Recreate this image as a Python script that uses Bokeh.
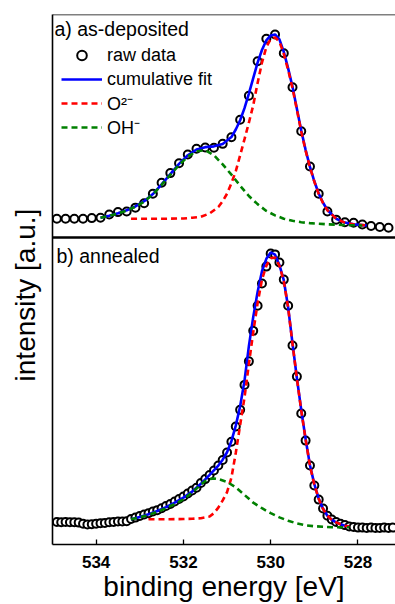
from bokeh.plotting import figure
from bokeh.models import Range1d, Span, Label, Legend, LegendItem, FixedTicker
from bokeh.embed import file_html
from bokeh.resources import INLINE

# ---------------- data ----------------
X_TICKS = [534, 532, 530, 528]

# a) as-deposited
raw_a_energy = [534.9, 534.7, 534.5, 534.3, 534.1, 533.9, 533.7, 533.5, 533.3, 533.1,
                532.9, 532.7, 532.5, 532.3, 532.1, 531.9, 531.7, 531.5, 531.3, 531.1,
                530.9, 530.7, 530.5, 530.3, 530.1, 529.9, 529.7, 529.5, 529.3, 529.1,
                528.9, 528.7, 528.5, 528.3, 528.1, 527.9, 527.7, 527.5, 527.3]
raw_a_intensity = [0.045, 0.045, 0.045, 0.045, 0.048, 0.050, 0.067, 0.079, 0.082, 0.102,
                   0.125, 0.174, 0.230, 0.280, 0.331, 0.376, 0.406, 0.412, 0.411, 0.431,
                   0.465, 0.555, 0.679, 0.857, 0.973, 0.995, 0.898, 0.723, 0.496, 0.314,
                   0.174, 0.082, 0.040, 0.027, 0.024, 0.015, 0.007, 0.002, -0.002]

fit_a_energy = [533.9, 533.7, 533.5, 533.3, 533.1, 532.9, 532.7, 532.5, 532.3, 532.1,
                531.9, 531.7, 531.5, 531.3, 531.1, 530.9, 530.8, 530.7, 530.6, 530.5,
                530.4, 530.3, 530.2, 530.1, 530.0, 529.9, 529.8, 529.7, 529.6, 529.5,
                529.4, 529.3, 529.2, 529.1, 529.0, 528.9, 528.8, 528.7, 528.5, 528.3,
                528.1, 527.9, 527.8]
fit_a_total = [0.050, 0.060, 0.073, 0.088, 0.108, 0.135, 0.172, 0.222, 0.275, 0.328,
               0.372, 0.402, 0.414, 0.418, 0.430, 0.466, 0.505, 0.553, 0.615, 0.690,
               0.770, 0.850, 0.915, 0.965, 0.990, 0.995, 0.970, 0.905, 0.820, 0.725,
               0.612, 0.500, 0.400, 0.312, 0.238, 0.175, 0.127, 0.090, 0.045, 0.025,
               0.016, 0.012, 0.010]

o2_a_energy = [533.2, 532.8, 532.4, 532.0, 531.8, 531.6, 531.4, 531.2, 531.1, 531.0,
               530.9, 530.8, 530.7, 530.6, 530.5, 530.4, 530.3, 530.2, 530.1, 530.0,
               529.9, 529.8, 529.7, 529.6, 529.5, 529.4, 529.3, 529.2, 529.1, 529.0,
               528.9, 528.8, 528.7, 528.5, 528.3, 528.1, 527.9, 527.8]
o2_a_intensity = [0.045, 0.045, 0.045, 0.046, 0.050, 0.055, 0.072, 0.105, 0.135, 0.174,
                  0.228, 0.290, 0.372, 0.455, 0.540, 0.630, 0.745, 0.850, 0.930, 0.972,
                  0.980, 0.958, 0.895, 0.812, 0.718, 0.607, 0.495, 0.396, 0.310, 0.236,
                  0.172, 0.125, 0.088, 0.045, 0.025, 0.016, 0.012, 0.010]

oh_a_energy = [533.9, 533.7, 533.5, 533.3, 533.1, 532.9, 532.7, 532.5, 532.3, 532.1,
               531.9, 531.7, 531.5, 531.3, 531.1, 530.9, 530.7, 530.5, 530.3, 530.1,
               529.9, 529.7, 529.5, 529.3, 529.1, 528.9, 528.7, 528.5, 528.3, 528.1,
               527.9]
oh_a_intensity = [0.050, 0.060, 0.072, 0.087, 0.107, 0.133, 0.170, 0.219, 0.271, 0.322,
                  0.365, 0.393, 0.398, 0.372, 0.325, 0.272, 0.215, 0.162, 0.120, 0.085,
                  0.062, 0.045, 0.034, 0.027, 0.022, 0.019, 0.016, 0.014, 0.012, 0.011,
                  0.010]

# b) annealed
raw_b_energy = [534.9, 534.8, 534.7, 534.6, 534.5, 534.4, 534.3, 534.2, 534.1, 534.0,
                533.9, 533.8, 533.7, 533.6, 533.5, 533.4, 533.3, 533.2, 533.1, 533.0,
                532.9, 532.8, 532.7, 532.6, 532.5, 532.4, 532.3, 532.2, 532.1, 532.0,
                531.9, 531.8, 531.7, 531.6, 531.5, 531.4, 531.3, 531.2, 531.1, 531.0,
                530.9, 530.8, 530.7, 530.6, 530.5, 530.4, 530.3, 530.2, 530.1, 530.0,
                529.9, 529.8, 529.7, 529.6, 529.5, 529.4, 529.3, 529.2, 529.1, 529.0,
                528.9, 528.8, 528.7, 528.6, 528.5, 528.4, 528.3, 528.2, 528.1, 528.0,
                527.9, 527.8, 527.7, 527.6, 527.5, 527.4, 527.3, 527.2]
raw_b_intensity = [0.020, 0.019, 0.020, 0.019, 0.019, 0.018, 0.014, 0.011, 0.012, 0.014,
                   0.016, 0.017, 0.019, 0.020, 0.022, 0.022, 0.023, 0.031, 0.036, 0.042,
                   0.047, 0.052, 0.058, 0.063, 0.070, 0.078, 0.085, 0.094, 0.103, 0.112,
                   0.123, 0.134, 0.144, 0.161, 0.175, 0.190, 0.206, 0.224, 0.244, 0.271,
                   0.310, 0.365, 0.425, 0.515, 0.600, 0.710, 0.801, 0.881, 0.942, 0.989,
                   0.986, 0.957, 0.895, 0.801, 0.657, 0.545, 0.412, 0.314, 0.224, 0.152,
                   0.101, 0.069, 0.043, 0.029, 0.020, 0.014, 0.009, 0.004, 0.002, 0.000,
                   0.000, -0.001, 0.000, -0.001, -0.001, 0.000, -0.001, 0.000]

fit_b_energy = [533.2, 533.0, 532.8, 532.6, 532.4, 532.2, 532.0, 531.8, 531.6, 531.4,
                531.2, 531.1, 531.0, 530.9, 530.8, 530.7, 530.6, 530.5, 530.4, 530.3,
                530.2, 530.1, 530.0, 529.9, 529.8, 529.7, 529.6, 529.5, 529.4, 529.3,
                529.2, 529.1, 529.0, 528.9, 528.8, 528.7, 528.6, 528.5, 528.4, 528.3,
                528.2]
fit_b_total = [0.030, 0.038, 0.048, 0.060, 0.074, 0.090, 0.108, 0.130, 0.158, 0.190,
               0.224, 0.245, 0.272, 0.312, 0.368, 0.438, 0.530, 0.655, 0.760, 0.850,
               0.925, 0.970, 0.993, 0.985, 0.948, 0.893, 0.795, 0.665, 0.540, 0.425,
               0.320, 0.225, 0.157, 0.105, 0.068, 0.043, 0.028, 0.019, 0.012, 0.007,
               0.004]

o2_b_energy = [532.8, 532.4, 532.0, 531.8, 531.6, 531.4, 531.3, 531.2, 531.1, 531.0,
               530.9, 530.8, 530.7, 530.6, 530.5, 530.4, 530.3, 530.2, 530.1, 530.0,
               529.9, 529.8, 529.7, 529.6, 529.5, 529.4, 529.3, 529.2, 529.1, 529.0,
               528.9, 528.8, 528.7, 528.6, 528.5, 528.4, 528.3, 528.2]
o2_b_intensity = [0.030, 0.030, 0.031, 0.032, 0.034, 0.040, 0.052, 0.072, 0.098, 0.128,
                  0.180, 0.270, 0.370, 0.470, 0.590, 0.705, 0.810, 0.895, 0.945, 0.972,
                  0.975, 0.945, 0.890, 0.793, 0.663, 0.538, 0.423, 0.318, 0.223, 0.155,
                  0.104, 0.067, 0.043, 0.028, 0.019, 0.012, 0.007, 0.004]

oh_b_energy = [533.2, 533.0, 532.8, 532.6, 532.4, 532.2, 532.0, 531.8, 531.6, 531.5,
               531.4, 531.3, 531.2, 531.0, 530.8, 530.6, 530.4, 530.2, 530.0, 529.8,
               529.6, 529.4, 529.2, 529.0, 528.8, 528.6, 528.4, 528.2]
oh_b_intensity = [0.030, 0.037, 0.046, 0.057, 0.070, 0.085, 0.102, 0.127, 0.155, 0.168,
                  0.175, 0.177, 0.175, 0.165, 0.145, 0.118, 0.090, 0.070, 0.052, 0.037,
                  0.025, 0.015, 0.008, 0.005, 0.003, 0.001, 0.001, 0.001]

# ---------------- layout / style ----------------
FONT = "Liberation Sans"
X_START, X_END = 535.0, 527.14
TOP_VIEW = (-0.052, 1.098)      # visible intensity window of panel a)
BOT_VIEW = (-0.061, 1.047)      # visible intensity window of panel b)
FRAME_W, FRAME_H = 343, 530
BOT_SHARE = 307 / 530           # fraction of the frame used by panel b)
LEGEND_TOP = 29                 # px from frame top to the legend's first row
LEGEND_ROW, LEGEND_GAP = 24, 0

top_full = (TOP_VIEW[1] - (TOP_VIEW[1] - TOP_VIEW[0]) / (1 - BOT_SHARE), TOP_VIEW[1])
bot_full = (BOT_VIEW[0], BOT_VIEW[0] + (BOT_VIEW[1] - BOT_VIEW[0]) / BOT_SHARE)

p = figure(frame_width=FRAME_W, frame_height=FRAME_H,
           x_range=Range1d(X_START, X_END), y_range=Range1d(*bot_full),
           output_backend="svg", toolbar_location=None,
           min_border_left=52, min_border_right=0, min_border_top=14, min_border_bottom=0)
p.extra_y_ranges = {"top": Range1d(*top_full)}
p.outline_line_color = None
p.xgrid.visible = False
p.ygrid.visible = False
p.background_fill_color = "white"

LW = 2.6
DASH = "6 4"

def panel(raw_e, raw_i, fit_e, fit_i, o2_e, o2_i, oh_e, oh_i, rng):
    kw = {} if rng is None else {"y_range_name": rng}
    r_raw = p.scatter(raw_e, raw_i, marker="circle", size=8, fill_color="white",
                      line_color="black", line_width=2, **kw)
    r_fit = p.line(fit_e, fit_i, line_color="#0000ff", line_width=LW, **kw)
    r_o2 = p.line(o2_e, o2_i, line_color="#ff0000", line_width=LW, line_dash=DASH, **kw)
    r_oh = p.line(oh_e, oh_i, line_color="#008000", line_width=LW, line_dash=DASH, **kw)
    return r_raw, r_fit, r_o2, r_oh

ra = panel(raw_a_energy, raw_a_intensity, fit_a_energy, fit_a_total,
           o2_a_energy, o2_a_intensity, oh_a_energy, oh_a_intensity, "top")
panel(raw_b_energy, raw_b_intensity, fit_b_energy, fit_b_total,
      o2_b_energy, o2_b_intensity, oh_b_energy, oh_b_intensity, None)

# frame lines: top edge and panel divider
p.add_layout(Span(location=TOP_VIEW[1], dimension="width", y_range_name="top",
                  line_color="black", line_width=1.6))
p.add_layout(Span(location=BOT_VIEW[1], dimension="width",
                  line_color="black", line_width=2.6))

# panel labels
p.add_layout(Label(x=X_START, y=TOP_VIEW[1], y_range_name="top", text="a) as-deposited",
                   x_offset=2, y_offset=-3, text_baseline="top", text_align="left",
                   text_font=FONT, text_font_size="19.5px", text_color="black"))
p.add_layout(Label(x=X_START, y=BOT_VIEW[1], text="b) annealed",
                   x_offset=4, y_offset=-7, text_baseline="top", text_align="left",
                   text_font=FONT, text_font_size="19.5px", text_color="black"))

# legend (location = legend's lower-left corner, measured from the frame's lower-left)
legend_labels = ["raw data", "cumulative fit", "O²⁻", "OH⁻"]
legend_h = len(legend_labels) * LEGEND_ROW + (len(legend_labels) - 1) * LEGEND_GAP
legend = Legend(items=[LegendItem(label=lab, renderers=[r]) for lab, r in zip(legend_labels, ra)],
                location=(9, FRAME_H - LEGEND_TOP - legend_h), margin=0, padding=0,
                spacing=LEGEND_GAP, glyph_width=41, glyph_height=LEGEND_ROW,
                label_height=LEGEND_ROW, label_standoff=5,
                label_text_font=FONT, label_text_font_size="18px",
                label_text_color="black",
                border_line_color=None, background_fill_alpha=0)
p.add_layout(legend)

# axes
xa = p.xaxis[0]
xa.ticker = FixedTicker(ticks=X_TICKS, minor_ticks=[])
xa.axis_line_color = "black"
xa.axis_line_width = 1.6
xa.major_tick_in = 5
xa.major_tick_out = 0
xa.major_tick_line_width = 1.3
xa.minor_tick_in = 0
xa.minor_tick_out = 0
xa.major_label_standoff = 11
xa.major_label_text_font = FONT
xa.major_label_text_font_style = "bold"
xa.major_label_text_font_size = "17px"
xa.major_label_text_color = "black"
xa.axis_label = "binding energy [eV]"
xa.axis_label_standoff = 0
xa.axis_label_text_font = FONT
xa.axis_label_text_font_style = "normal"
xa.axis_label_text_font_size = "28px"
xa.axis_label_text_color = "black"

ya = p.yaxis[0]
ya.ticker = FixedTicker(ticks=[], minor_ticks=[])
ya.axis_line_color = "black"
ya.axis_line_width = 1.6
ya.major_tick_in = 0
ya.major_tick_out = 0
ya.minor_tick_in = 0
ya.minor_tick_out = 0
ya.major_label_text_font_size = "0px"
# trailing no-break spaces nudge the centred title toward the lower panel, as in the original
ya.axis_label = "intensity [a.u.]" + "\u00a0" * 4
ya.axis_label_standoff = 12
ya.axis_label_text_font = FONT
ya.axis_label_text_font_style = "normal"
ya.axis_label_text_font_size = "28px"
ya.axis_label_text_color = "black"

open("out.html", "w").write(file_html(p, INLINE))
